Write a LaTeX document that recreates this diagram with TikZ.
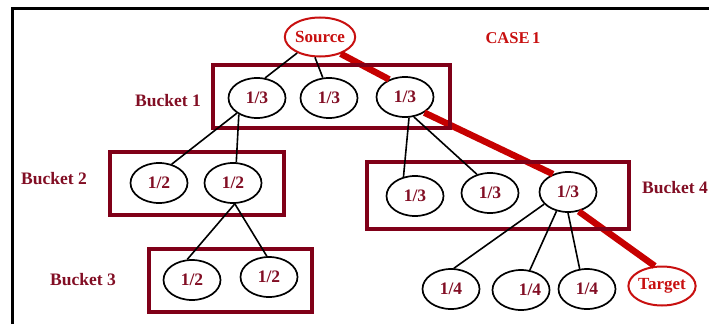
\documentclass[tikz,border=0pt]{standalone}
\usepackage{fontspec}
\setmainfont{Liberation Serif}
\usetikzlibrary{shapes.geometric}
\definecolor{maroonbox}{RGB}{128,0,24}
\definecolor{labeltext}{RGB}{130,14,36}
\definecolor{pathred}{RGB}{198,0,0}
\definecolor{endred}{RGB}{200,16,16}
\begin{document}
\begin{tikzpicture}[x=1pt,y=-1pt,
  share/.style={ellipse,draw=black,line width=1.7pt,minimum width=57pt,minimum height=40pt,
    inner sep=0pt,font=\fontsize{17.5}{19}\selectfont\bfseries,text=labeltext},
  endpt/.style={ellipse,draw=endred,line width=2pt,minimum width=56pt,minimum height=39pt,
    inner sep=0pt,font=\fontsize{17}{19}\selectfont\bfseries,text=endred},
  bucket/.style={draw=maroonbox,line width=3.6pt},
  bucketlabel/.style={font=\fontsize{17.5}{19}\selectfont\bfseries,text=labeltext,inner sep=0pt},
  tree/.style={line width=1.6pt,black},
  route/.style={line width=6.5pt,pathred}]
\useasboundingbox (0,0) rectangle (709,324);
% outer frame (top and left edges)
\draw[line width=3pt] (12.5,324) -- (12.5,8.5) -- (709,8.5);

% nodes
\node[endpt] (src) at (320,37) {Source};
\node[font=\fontsize{16.5}{18}\selectfont\bfseries,text=endred] (case) at (513,38) {CASE\,1};

\node[share] (b1a) at (257,98) {1/3};
\node[share] (b1b) at (329,98) {1/3};
\node[share] (b1c) at (405,97) {1/3};

\node[share] (b2a) at (159,183) {1/2};
\node[share] (b2b) at (233,183) {1/2};

\node[share] (b3a) at (192,280) {1/2};
\node[share] (b3b) at (269,277) {1/2};

\node[share] (b4a) at (415,196) {1/3};
\node[share] (b4b) at (490,193) {1/3};
\node[share] (b4c) at (568,192) {1/3};

\node[share] (q1) at (451,289) {1/4};
\node[share] (q2) at (521,290) {\hspace{18pt}1/4};
\node[share] (q3) at (587,289) {1/4};
\node[endpt] (tgt) at (662,286) {Target};

% highlighted route
\draw[route] (src.321) -- (b1c.132);
\draw[route] (b1c.321) -- (b4c.130);
\draw[route] (b4c.299) -- (tgt.110);

% bucket frames
\draw[bucket] (213,65) rectangle (450,128);
\draw[bucket] (110,152) rectangle (284,215);
\draw[bucket] (149,249) rectangle (312,312);
\draw[bucket] (367,162) rectangle (629,229);

\node[bucketlabel] (l1) at (168,101) {Bucket 1};
\node[bucketlabel] (l2) at (54,179) {Bucket 2};
\node[bucketlabel] (l3) at (83,280) {Bucket 3};
\node[bucketlabel] (l4) at (675,188) {Bucket 4};

% tree edges
\draw[tree] (src.215) -- (b1a.68);
\draw[tree] (src.256) -- (b1b.107);
\draw[tree] (b1a.217) -- (b2a.56);
\draw[tree] (b1a.222) -- (b2b.81);
\draw[tree] (b2b.275) -- (b3a.103);
\draw[tree] (b2b.275) -- (b3b.96);
\draw[tree] (b1c.281) -- (b4a.121);
\draw[tree] (b1c.294) -- (b4b.125);
\draw[tree] (b4c.207) -- (q1.82);
\draw[tree] (b4c.239) -- (q2.66);
\draw[tree] (b4c.270) -- (q3.110);
\end{tikzpicture}
\end{document}
